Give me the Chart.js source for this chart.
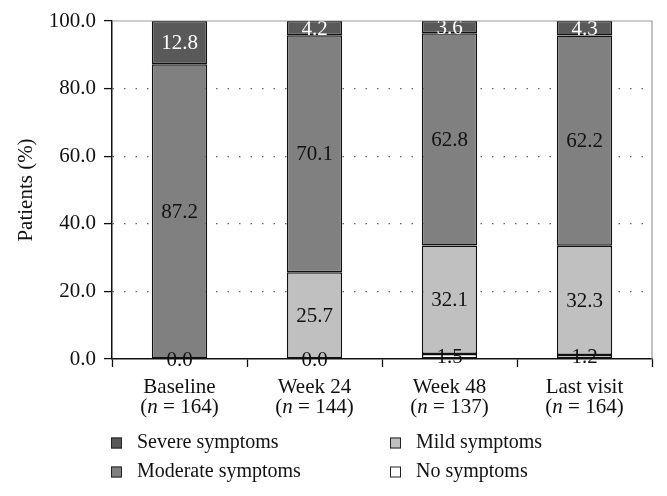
<!DOCTYPE html>
<html>
<head>
<meta charset="utf-8">
<script src="https://cdn.jsdelivr.net/npm/chart.js@4/dist/chart.umd.min.js"></script>
<style>
  html, body { margin: 0; padding: 0; background: #fff; }
  #wrap { width: 667px; height: 496px; }
</style>
</head>
<body>
<div id="wrap"><canvas id="chart" width="667" height="496"></canvas></div>
<script>
const categories = ["Baseline", "Week 24", "Week 48", "Last visit"];
const sampleSizes = [164, 144, 137, 164];
const noSymptoms = [0.0, 0.0, 1.5, 1.2];
const mildSymptoms = [0.0, 25.7, 32.1, 32.3];
const moderateSymptoms = [87.2, 70.1, 62.8, 62.2];
const severeSymptoms = [12.8, 4.2, 3.6, 4.3];
const yTicks = [0, 20, 40, 60, 80, 100];

const SERIF = "'Liberation Serif', 'DejaVu Serif', serif";

// bars stacked from bottom: none, mild, moderate, severe
const datasets = [
  { label: "No symptoms", data: noSymptoms, backgroundColor: "#ffffff", textColor: "#111" },
  { label: "Mild symptoms", data: mildSymptoms, backgroundColor: "#c0c0c0", textColor: "#111" },
  { label: "Moderate symptoms", data: moderateSymptoms, backgroundColor: "#808080", textColor: "#111" },
  { label: "Severe symptoms", data: severeSymptoms, backgroundColor: "#595959", textColor: "#fff" }
].map(d => Object.assign(d, {
  borderColor: "#111",
  borderWidth: 1.5,
  borderSkipped: false,
  barPercentage: 0.41,
  categoryPercentage: 1
}));

// legend order as in the figure (two columns)
const legendOrder = ["Severe symptoms", "Mild symptoms", "Moderate symptoms", "No symptoms"];

const extras = {
  id: "extras",
  afterDatasetsDraw(chart) {
    const ctx = chart.ctx;
    const area = chart.chartArea;

    // value labels in the middle of each segment
    ctx.save();
    ctx.font = "21px " + SERIF;
    ctx.textAlign = "center";
    ctx.textBaseline = "middle";
    const done = {};
    chart.data.datasets.forEach((ds, di) => {
      const meta = chart.getDatasetMeta(di);
      meta.data.forEach((bar, i) => {
        const mid = (bar.y + bar.base) / 2;
        const key = i + ":" + Math.round(mid);
        if (done[key]) return; // two empty segments share one label
        done[key] = true;
        ctx.fillStyle = ds.textColor;
        ctx.fillText(ds.data[i].toFixed(1), bar.x, mid + 1);
      });
    });
    ctx.restore();

    // gray frame on top and right
    ctx.save();
    ctx.strokeStyle = "#9a9a9a";
    ctx.lineWidth = 1.2;
    ctx.beginPath();
    ctx.moveTo(area.left, area.top);
    ctx.lineTo(area.right, area.top);
    ctx.lineTo(area.right, area.bottom);
    ctx.stroke();
    ctx.restore();
  },
  afterDraw(chart) {
    const ctx = chart.ctx;
    const x = chart.scales.x;
    ctx.save();
    ctx.fillStyle = "#111";
    ctx.textBaseline = "middle";

    // category labels with italic n
    const f = "21px " + SERIF, fi = "italic 21px " + SERIF;
    categories.forEach((c, i) => {
      const cx = x.getPixelForValue(i);
      ctx.font = f;
      ctx.textAlign = "center";
      ctx.fillText(c, cx, 387);

      const pre = "(", n = "n", post = " = " + sampleSizes[i] + ")";
      ctx.font = f;
      const w1 = ctx.measureText(pre).width;
      const w3 = ctx.measureText(post).width;
      ctx.font = fi;
      const w2 = ctx.measureText(n).width;
      const sx = cx - (w1 + w2 + w3) / 2;
      ctx.textAlign = "left";
      ctx.font = f;
      ctx.fillText(pre, sx, 407);
      ctx.font = fi;
      ctx.fillText(n, sx + w1, 407);
      ctx.font = f;
      ctx.fillText(post, sx + w1 + w2, 407);
    });

    // legend, two columns
    const cols = [111, 390], rows = [443, 472];
    ctx.font = "20px " + SERIF;
    legendOrder.forEach((name, k) => {
      const ds = chart.data.datasets.find(d => d.label === name);
      const bx = cols[k % 2], by = rows[Math.floor(k / 2)];
      ctx.fillStyle = ds.backgroundColor;
      ctx.fillRect(bx, by - 5.5, 11, 11);
      ctx.strokeStyle = "#222";
      ctx.lineWidth = 1;
      ctx.strokeRect(bx + 0.5, by - 5, 10, 10);
      ctx.fillStyle = "#111";
      ctx.textAlign = "left";
      ctx.fillText(name, bx + 26, by);
    });
    ctx.restore();
  }
};

new Chart(document.getElementById("chart"), {
  type: "bar",
  data: { labels: categories, datasets: datasets },
  options: {
    responsive: false,
    animation: false,
    layout: { padding: { top: 21, right: 15, bottom: 0, left: 0 } },
    plugins: {
      legend: { display: false },
      tooltip: { enabled: false }
    },
    scales: {
      x: {
        stacked: true,
        offset: true,
        grid: {
          offset: true,
          drawOnChartArea: false,
          drawTicks: true,
          tickLength: 8,
          tickColor: "#111",
          tickWidth: 1.3
        },
        border: { color: "#111", width: 1.5 },
        ticks: { display: false },
        afterFit(s) { s.height = 137; }
      },
      y: {
        stacked: true,
        min: 0,
        max: 100,
        afterBuildTicks(s) { s.ticks = yTicks.map(v => ({ value: v })); },
        grid: {
          color: c => (c.tick && (c.tick.value === 0 || c.tick.value === 100)) ? "rgba(0,0,0,0)" : "#666",
          lineWidth: 1.2,
          drawTicks: true,
          tickLength: 8,
          tickColor: "#111",
          tickWidth: 1.3,
          tickBorderDash: []
        },
        border: { color: "#111", width: 1.5, dash: [1.5, 10] },
        ticks: {
          color: "#111",
          font: { family: SERIF, size: 21 },
          padding: 8,
          callback: v => v.toFixed(1)
        },
        title: {
          display: true,
          text: "Patients (%)",
          color: "#111",
          font: { family: SERIF, size: 21 },
          padding: { top: 14, bottom: 4 }
        },
        afterFit(s) { s.width = 112; }
      }
    }
  },
  plugins: [extras]
});
</script>
</body>
</html>
